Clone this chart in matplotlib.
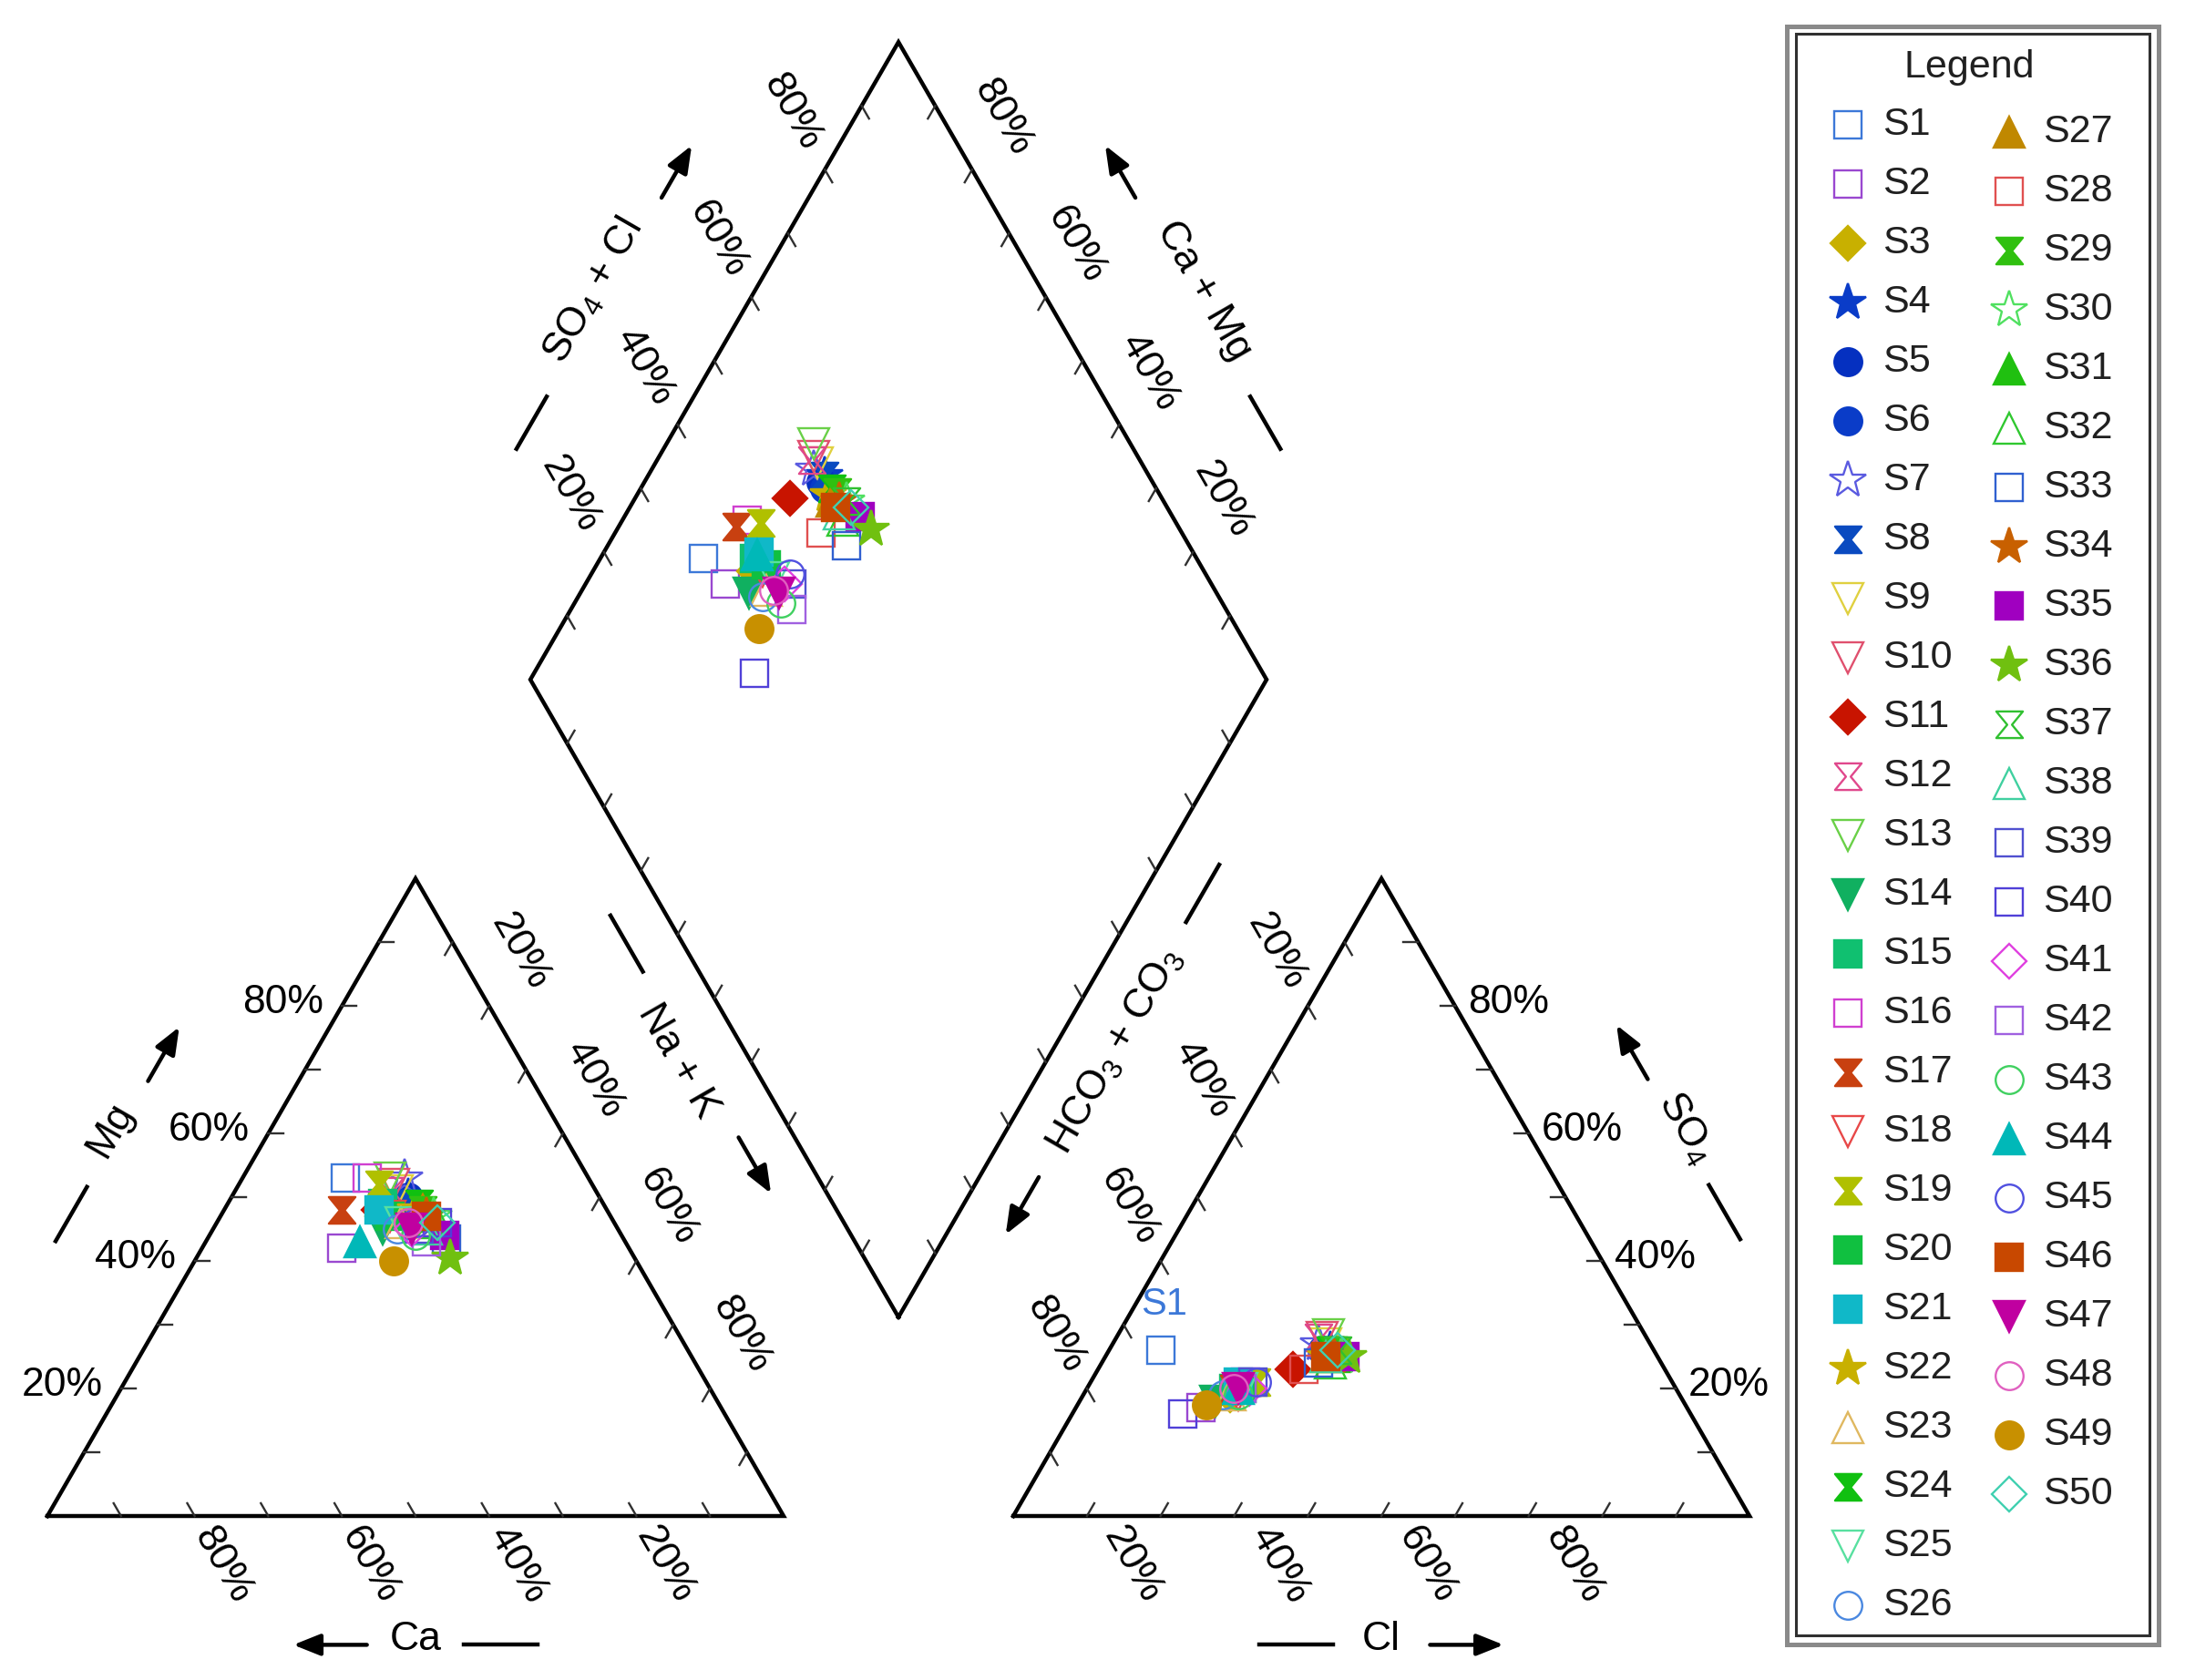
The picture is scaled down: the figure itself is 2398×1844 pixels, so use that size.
import numpy as np
import matplotlib
matplotlib.use('Agg')
import matplotlib.pyplot as plt
from matplotlib.path import Path
from matplotlib.patches import Rectangle

plt.rcParams['font.family'] = ['Liberation Sans', 'DejaVu Sans']
plt.rcParams['mathtext.fontset'] = 'custom'
plt.rcParams['mathtext.rm'] = 'Liberation Sans'

# ---- sample data (meq %) ----
samples = ['S%d' % i for i in range(1, 51)]
ca = np.array([33, 39, 31, 26, 26, 26, 25, 27, 27, 27,
               31, 28, 27, 32, 30, 30, 36, 30, 29, 30,
               31, 26, 29, 25, 29, 30, 25, 26, 25, 24,
               25, 24, 24, 25, 24, 25, 25, 26, 27, 24,
               28, 27, 28, 36, 27, 25, 28, 28, 33, 24], dtype=float)
mg = np.array([53, 42, 47, 50, 50, 49, 53, 49, 51, 52,
               48, 51, 53, 45, 49, 53, 48, 47, 52, 47,
               48, 48, 46, 49, 46, 45, 48, 46, 48, 47,
               47, 46, 43.5, 47, 44, 40.5, 46, 45, 45, 46,
               45, 43, 44, 43, 46, 47, 45, 46, 40, 46], dtype=float)
so4 = np.array([26, 17, 19, 26, 25, 26, 27, 26, 27, 28,
                23, 28, 28.5, 18, 20, 21, 20, 19, 21, 20,
                21, 25, 19, 26, 20, 19, 25, 23, 26, 25,
                25, 24, 24, 25, 25, 25, 26, 25, 21, 16,
                20, 20, 19, 20, 21, 25, 20, 20, 17.5, 26], dtype=float)
cl = np.array([7, 17, 20, 30, 30, 29, 28, 30, 29, 28,
               26.5, 27.5, 28.5, 18.5, 20, 21, 20, 21, 22.5, 21,
               20, 30, 20, 30, 21, 19, 30, 28, 30.5, 32,
               31, 31, 29.5, 31, 32.5, 33, 31, 30, 22, 15,
               22, 21, 21, 20.5, 22.5, 30, 20.5, 20, 17.5, 31], dtype=float)
na = 100 - ca - mg
hco3 = 100 - so4 - cl

# ---- symbol styles ----
marker_keys = ['s', 's', 'D', '*', 'o', 'o', '*', 'h', 'v', 'v',
               'D', 'h', 'v', 'v', 's', 's', 'h', 'v', 'h', 's',
               's', '*', '^', 'h', 'v', 'o', '^', 's', 'h', '*',
               '^', '^', 's', '*', 's', '*', 'h', '^', 's', 's',
               'D', 's', 'o', '^', 'o', 's', 'v', 'o', 'o', 'D']
filled = [0, 0, 1, 1, 1, 1, 0, 1, 0, 0,
          1, 0, 0, 1, 1, 0, 1, 0, 1, 1,
          1, 1, 0, 1, 0, 0, 1, 0, 1, 0,
          1, 0, 0, 1, 1, 1, 0, 0, 0, 0,
          0, 0, 0, 1, 0, 1, 1, 0, 1, 0]
colors = ['#3c78d8', '#9a48d0', '#c8b000', '#0a3cc8', '#0530c0', '#0a3cc8', '#5a5ae0', '#0a4ac0', '#e0d040', '#e0506e',
          '#c81400', '#e0488c', '#6ad048', '#10b060', '#10c070', '#d040d0', '#c84010', '#e84848', '#b0c000', '#10c040',
          '#10b8c8', '#c8b000', '#e0b860', '#10c010', '#58e0a0', '#4a88e0', '#c08800', '#e05050', '#30c010', '#50e060',
          '#20c010', '#30c830', '#3060d0', '#c86000', '#a000c0', '#70c010', '#30c030', '#40d0a0', '#5050d0', '#5040d8',
          '#e040e0', '#a060e0', '#40d060', '#00b8b8', '#5050e0', '#c84800', '#c000a0', '#e060c0', '#c89000', '#40d0b0']

HG = Path([(-1, 1), (1, 1), (0.18, 0), (1, -1), (-1, -1), (-0.18, 0), (-1, 1)],
          [Path.MOVETO, Path.LINETO, Path.LINETO, Path.LINETO, Path.LINETO, Path.LINETO, Path.CLOSEPOLY])
marker_map = {'s': ('s', 21), 'o': ('o', 22), 'D': ('D', 19), '*': ('*', 30),
              'v': ('v', 24), '^': ('^', 24), 'h': (HG, 21)}

# ---- layout ----
W, H = 2398, 1844
PX0, PY0, S = 52, 1664, 808
SQ = np.sqrt(3) / 2
g = 0.312
FS = 32

fig = plt.figure(figsize=(W / 100, H / 100), dpi=100)
ax = fig.add_axes([0, 0, 1, 1])
ax.set_xlim(-PX0 / S, (W - PX0) / S)
ax.set_ylim((PY0 - H) / S, PY0 / S)
ax.axis('off')

C_L, C_R, C_T = (0, 0), (1, 0), (0.5, SQ)
A_L, A_R, A_T = (1 + g, 0), (2 + g, 0), (1.5 + g, SQ)
D_B = (1 + g / 2, g * SQ)
D_L = (0.5 + g / 2, (1 + g) * SQ)
D_R = (1.5 + g / 2, (1 + g) * SQ)
D_T = (1 + g / 2, (2 + g) * SQ)


def lerp(a, b, t):
    return np.array([a[0] + (b[0] - a[0]) * t, a[1] + (b[1] - a[1]) * t])


def outline(pts):
    xs = [p[0] for p in pts] + [pts[0][0]]
    ys = [p[1] for p in pts] + [pts[0][1]]
    ax.plot(xs, ys, color='black', lw=3.2, solid_joinstyle='miter', zorder=2)


outline([C_L, C_R, C_T])
outline([A_L, A_R, A_T])
outline([D_B, D_R, D_T, D_L])


def ticks(p0, p1, inward):
    d = np.array(inward)
    for k in range(1, 10):
        pt = lerp(p0, p1, k / 10)
        e = pt + 0.02 * d
        ax.plot([pt[0], e[0]], [pt[1], e[1]], color='#303030', lw=1.7, zorder=2)


def tick_labels(p0, p1, direction, dist, rot=-60, ha='center', dy=0.0):
    d = np.array(direction)
    for k in (2, 4, 6, 8):
        pt = lerp(p0, p1, k / 10) + dist * d
        ax.text(pt[0], pt[1] + dy, '%d%%' % (k * 10), rotation=rot, ha=ha, va='center',
                fontsize=FS, color='black')


ticks(C_L, C_R, (-0.5, SQ))
ticks(C_L, C_T, (1, 0))
ticks(C_T, C_R, (-0.5, -SQ))
ticks(A_L, A_R, (0.5, SQ))
ticks(A_R, A_T, (-1, 0))
ticks(A_T, A_L, (0.5, -SQ))
ticks(D_L, D_T, (0.5, -SQ))
ticks(D_R, D_T, (-0.5, -SQ))
ticks(D_L, D_B, (0.5, SQ))
ticks(D_R, D_B, (-0.5, SQ))

tick_labels(C_R, C_L, (0.5, -SQ), 0.077)          # Ca
tick_labels(C_L, C_T, (-1, 0), 0.025, rot=0, ha='right', dy=0.005)   # Mg
tick_labels(C_T, C_R, (0.5, SQ), 0.085)          # Na + K
tick_labels(A_L, A_R, (-0.5, -SQ), 0.077)        # Cl
tick_labels(A_R, A_T, (1, 0), 0.017, rot=0, ha='left', dy=0.005)     # SO4
tick_labels(A_T, A_L, (-0.5, SQ), 0.085)         # HCO3
tick_labels(D_L, D_T, (-0.5, SQ), 0.09)          # SO4 + Cl
tick_labels(D_R, D_T, (0.5, SQ), 0.082)          # Ca + Mg


def edge_title(p0, p1, t, normal, text, rot, gap, length, line_off, text_off, forward):
    d = np.array(p1, dtype=float) - np.array(p0, dtype=float)
    d = d / np.linalg.norm(d)
    n = np.array(normal)
    base = lerp(p0, p1, t)
    c = base + line_off * n
    ct = base + text_off * n
    ax.text(ct[0], ct[1], text, rotation=rot, ha='center', va='center', fontsize=FS)
    back = (c - (gap + length) * d, c - gap * d)
    front = (c + gap * d, c + (gap + length) * d)
    if forward:
        line, arr = back, front
    else:
        line, arr = front, (back[1], back[0])
    ax.plot([line[0][0], line[1][0]], [line[0][1], line[1][1]], color='black', lw=3.2)
    ax.annotate('', xy=arr[1], xytext=arr[0],
                arrowprops=dict(arrowstyle='-|>,head_length=0.45,head_width=0.18', color='black',
                                lw=3.2, mutation_scale=40, shrinkA=0, shrinkB=0))


edge_title(C_L, C_R, 0.5, (0, -1), 'Ca', 0, 0.066, 0.1, 0.175, 0.168, False)
edge_title(A_L, A_R, 0.5, (0, -1), 'Cl', 0, 0.066, 0.1, 0.175, 0.168, True)
edge_title(C_L, C_T, 0.497, (-SQ, 0.5), 'Mg', 60, 0.083, 0.085, 0.177, 0.188, True)
edge_title(A_R, A_T, 0.5, (SQ, 0.5), r'SO$_\mathregular{4}$', -60, 0.083, 0.085, 0.177, 0.188, True)
edge_title(D_L, D_T, 0.5, (-SQ, 0.5), r'SO$_\mathregular{4}$ + Cl', 60, 0.156, 0.082, 0.173, 0.19, True)
edge_title(D_R, D_T, 0.5, (SQ, 0.5), 'Ca + Mg', -60, 0.156, 0.082, 0.173, 0.19, True)
edge_title(D_L, D_B, 0.55, (-SQ, -0.5), 'Na + K', -60, 0.13, 0.088, 0.066, 0.085, True)
edge_title(D_R, D_B, 0.54, (SQ, -0.5), r'HCO$_\mathregular{3}$ + CO$_\mathregular{3}$', 60, 0.2, 0.09, 0.07, 0.075, True)

# ---- piper projection of samples ----
cat_x = (na + 0.5 * mg) / 100
cat_y = SQ * mg / 100
an_x = 1 + g + (cl + 0.5 * so4) / 100
an_y = SQ * so4 / 100
p = (ca + mg) / 100
q = (so4 + cl) / 100
dm_x = 1 + g / 2 + 0.5 * (q - p)
dm_y = SQ * g + SQ * (p + q)

for i in range(len(samples)):
    mk, ms = marker_map[marker_keys[i]]
    ax.plot([cat_x[i], an_x[i], dm_x[i]], [cat_y[i], an_y[i], dm_y[i]], ls='none',
            marker=mk, ms=ms, mec=colors[i], mfc=colors[i] if filled[i] else 'none',
            mew=1.7, zorder=3)

ax.annotate(samples[0], (an_x[0], an_y[0]), xytext=(3, 36), textcoords='offset points',
            ha='center', va='center', color=colors[0], fontsize=30)

# ---- legend box ----
lax = fig.add_axes([0, 0, 1, 1])
lax.set_xlim(0, W)
lax.set_ylim(H, 0)
lax.axis('off')
lax.add_patch(Rectangle((1961, 29), 2369 - 1961, 1805 - 29, fill=True, facecolor='white',
                        edgecolor='#8a8a8a', lw=3.6))
lax.add_patch(Rectangle((1970.5, 37.5), 2359 - 1970.5, 1795 - 37.5, fill=False,
                        edgecolor='#303030', lw=2.2))
lax.text(2161, 74, 'Legend', ha='center', va='center', fontsize=31, color='#202020')

for i, name in enumerate(samples):
    col = 0 if i < 26 else 1
    row = i if i < 26 else i - 26
    my = (137 if col == 0 else 145) + row * 65
    mx = 2028 if col == 0 else 2205
    tx = 2066 if col == 0 else 2242
    mk, ms = marker_map[marker_keys[i]]
    lax.plot([mx], [my], ls='none', marker=mk, ms=ms, mec=colors[i],
             mfc=colors[i] if filled[i] else 'none', mew=1.7)
    lax.text(tx, my, name, ha='left', va='center', fontsize=31, color='#202020')

fig.savefig('out.png', dpi=100)
